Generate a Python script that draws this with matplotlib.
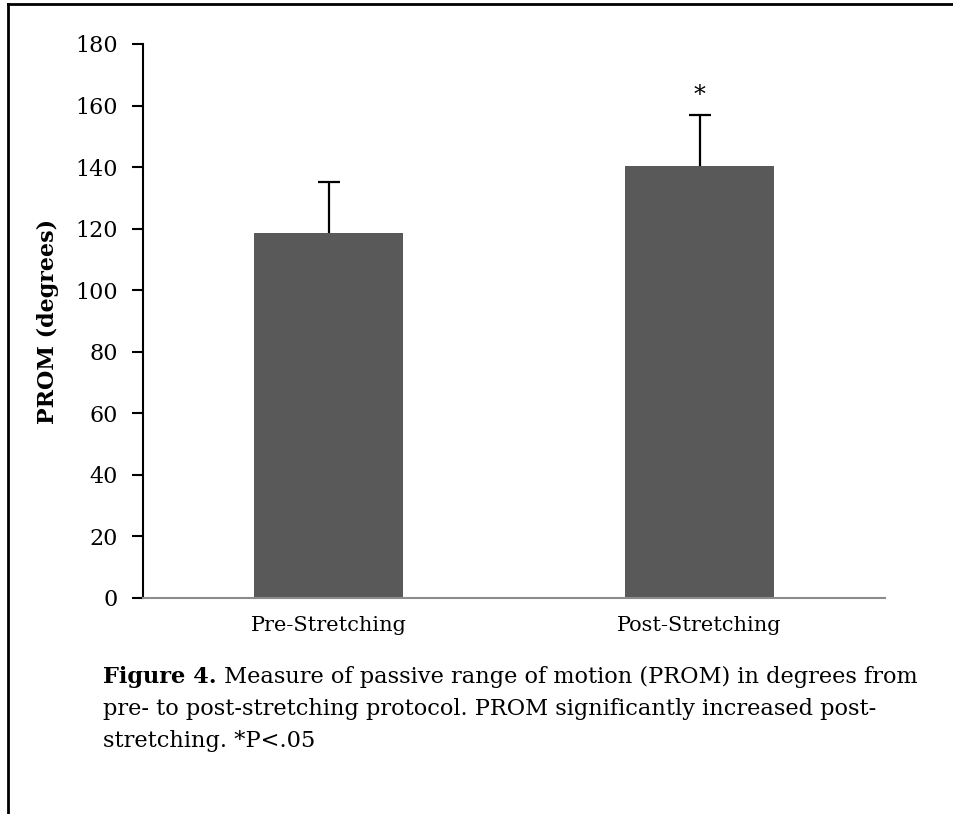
import matplotlib
matplotlib.use("Agg")
import matplotlib.pyplot as plt
from matplotlib.lines import Line2D

groups = ["Pre-Stretching", "Post-Stretching"]
means = [118.5, 140.3]
errs = [16.6, 16.6]
stars = ["", "*"]
yticks = [0, 20, 40, 60, 80, 100, 120, 140, 160, 180]

plt.rcParams["font.family"] = "DejaVu Serif"

fig = plt.figure(figsize=(9.54, 8.14), dpi=100)
ax = fig.add_axes([143 / 954, 1 - 598 / 814, (885 - 143) / 954, (598 - 44) / 814])

x = range(len(groups))
ax.bar(x, means, width=0.4, color="#595959", zorder=2)
eb = ax.errorbar(x, means, yerr=[[0, 0], errs], fmt="none", ecolor="black",
                 elinewidth=1.6, capsize=8, capthick=1.6, zorder=1)
# only the upper whisker shows in the original
eb[1][0].remove()
for i in x:
    if stars[i]:
        ax.text(i, means[i] + errs[i] + 2.5, stars[i], ha="center", va="bottom", fontsize=17)

ax.set_xlim(-0.5, 1.5)
ax.set_ylim(0, 180)
ax.set_yticks(yticks)
ax.set_xticks(list(x))
ax.set_xticklabels(groups, fontsize=15)
ax.tick_params(axis="y", labelsize=16, length=8, width=1.5, direction="out", pad=10)
ax.tick_params(axis="x", length=0, pad=13)
for s in ["top", "right"]:
    ax.spines[s].set_visible(False)
ax.spines["left"].set_linewidth(1.5)
ax.spines["bottom"].set_color("#8c8c8c")
ax.spines["bottom"].set_linewidth(1.5)
ax.set_ylabel("PROM (degrees)", fontsize=16, fontweight="bold", labelpad=12)

# caption
cap = fig.text(103 / 954, 1 - 677 / 814, "Figure 4.", fontsize=16.2, fontweight="bold", va="center")
ax.annotate(" Measure of passive range of motion (PROM) in degrees from", xy=(1, 0),
            xycoords=cap, va="bottom", ha="left", fontsize=16.2, annotation_clip=False)
fig.text(103 / 954, 1 - 709 / 814, "pre- to post-stretching protocol. PROM significantly increased post-",
         fontsize=16.2, va="center")
fig.text(103 / 954, 1 - 741 / 814, "stretching. *P<.05", fontsize=16.2, va="center")

# page border
fig.add_artist(Line2D([8 / 954, 1], [1 - 4 / 814, 1 - 4 / 814], color="black", lw=2))
fig.add_artist(Line2D([8 / 954, 8 / 954], [0, 1 - 4 / 814], color="black", lw=2))

fig.savefig("out.png", dpi=100)
